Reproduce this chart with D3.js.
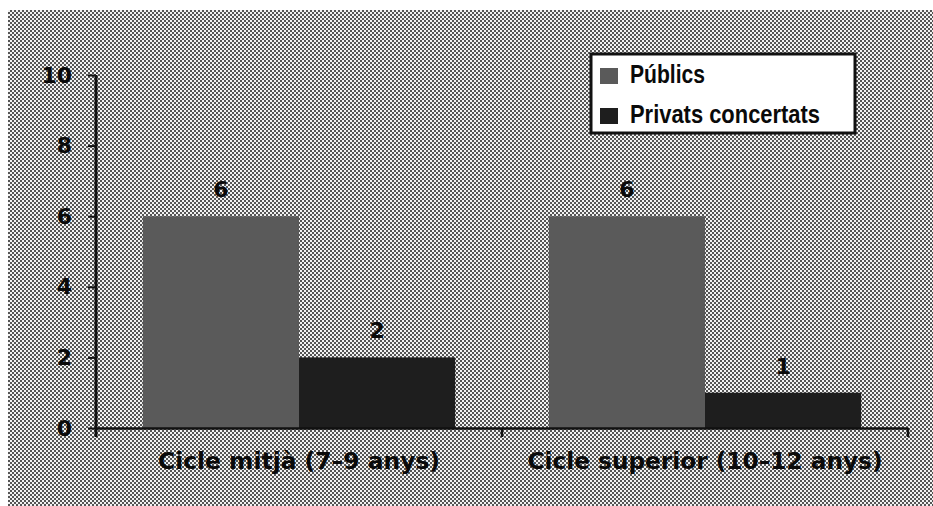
<!DOCTYPE html>
<html>
<head>
<meta charset="utf-8">
<script src="https://cdn.jsdelivr.net/npm/d3@7"></script>
<style>
  body { margin: 0; background: #fff; }
  svg { display: block; }
</style>
</head>
<body>
<div id="main"></div>
<script>
const ctx = {
    w: 933,
    h: 506,
};

// data
const categories = ["Cicle mitjà (7–9 anys)", "Cicle superior (10–12 anys)"];
const seriesNames = ["Públics", "Privats concertats"];
const publics = [6, 6];
const privats = [2, 1];
const yTicks = [0, 2, 4, 6, 8, 10];

const colors = {"Públics": "#5a5a5a", "Privats concertats": "#1e1e1e"};

function createChart(svg) {
    let defs = svg.append("defs");
    // halftone-ish background
    let pat = defs.append("pattern")
        .attr("id", "halftone")
        .attr("width", 4).attr("height", 4)
        .attr("patternUnits", "userSpaceOnUse");
    pat.append("rect").attr("width", 4).attr("height", 4).attr("fill", "#f2f2f2");
    pat.append("rect").attr("x", 0).attr("y", 0).attr("width", 2).attr("height", 2).attr("fill", "#555");
    pat.append("rect").attr("x", 2).attr("y", 2).attr("width", 2).attr("height", 2).attr("fill", "#555");

    svg.append("rect")
        .attr("x", 8).attr("y", 10)
        .attr("width", ctx.w).attr("height", ctx.h)
        .attr("fill", "url(#halftone)");

    let x0 = d3.scaleBand()
        .domain(categories)
        .range([96, 908]);
    let x1 = d3.scaleBand()
        .domain(seriesNames)
        .range([0, x0.bandwidth()])
        .paddingOuter(0.3);
    let y = d3.scaleLinear()
        .domain([0, 10])
        .range([428, 75]);

    let rows = categories.map((c, i) => ({
        cat: c,
        vals: [
            {name: seriesNames[0], v: publics[i]},
            {name: seriesNames[1], v: privats[i]}
        ]
    }));

    let groups = svg.selectAll("g.grp")
        .data(rows)
        .enter().append("g")
        .attr("class", "grp")
        .attr("transform", d => `translate(${x0(d.cat)},0)`);

    groups.selectAll("rect")
        .data(d => d.vals)
        .enter().append("rect")
        .attr("x", d => x1(d.name))
        .attr("y", d => y(d.v))
        .attr("width", x1.bandwidth())
        .attr("height", d => y(0) - y(d.v))
        .attr("fill", d => colors[d.name]);

    groups.selectAll("text.val")
        .data(d => d.vals)
        .enter().append("text")
        .attr("class", "val")
        .attr("x", d => x1(d.name) + x1.bandwidth() / 2)
        .attr("y", d => y(d.v) - 19)
        .attr("text-anchor", "middle")
        .style("font-family", "DejaVu Sans")
        .style("font-weight", "bold")
        .style("font-size", "22px")
        .style("fill", "#0a0a0a")
        .text(d => d.v);

    // y axis
    let yAxis = svg.append("g")
        .attr("transform", "translate(96,0)")
        .call(d3.axisLeft(y).tickValues(yTicks).tickSize(8).tickPadding(16).tickSizeOuter(0));
    yAxis.select(".domain").remove();
    yAxis.selectAll("line").attr("stroke", "#111").attr("stroke-width", 2);
    yAxis.selectAll("text")
        .style("font-family", "DejaVu Sans")
        .style("font-weight", "bold")
        .style("font-size", "22px")
        .style("fill", "#0a0a0a");
    svg.append("line")
        .attr("x1", 96).attr("x2", 96)
        .attr("y1", y(10)).attr("y2", y(0) + 9)
        .attr("stroke", "#111").attr("stroke-width", 3);

    // x axis
    let xAxis = svg.append("g")
        .attr("transform", `translate(0,${y(0)})`)
        .call(d3.axisBottom(x0).tickSize(0).tickPadding(25));
    xAxis.select(".domain").attr("stroke", "#111").attr("stroke-width", 2.5);
    xAxis.selectAll("text")
        .style("font-family", "DejaVu Sans")
        .style("font-weight", "bold")
        .style("font-size", "23px")
        .style("fill", "#0a0a0a")
        .attr("textLength", (d, i) => i == 0 ? 282 : 355)
        .attr("lengthAdjust", "spacingAndGlyphs");
    let bounds = categories.slice(1).map(c => x0(c)).concat([x0.range()[1]]);
    svg.selectAll("line.xt")
        .data(bounds)
        .enter().append("line")
        .attr("class", "xt")
        .attr("x1", d => d).attr("x2", d => d)
        .attr("y1", y(0)).attr("y2", y(0) + 9)
        .attr("stroke", "#111").attr("stroke-width", 2.5);

    // legend
    let lg = svg.append("g").attr("transform", "translate(591,54)");
    lg.append("rect")
        .attr("width", 264).attr("height", 79)
        .attr("fill", "#fff")
        .attr("stroke", "#111").attr("stroke-width", 3);
    let items = lg.selectAll("g.item")
        .data(seriesNames)
        .enter().append("g")
        .attr("class", "item")
        .attr("transform", (d, i) => `translate(9,${14 + i * 40})`);
    items.append("rect")
        .attr("width", 18).attr("height", 16)
        .attr("fill", d => colors[d]);
    items.append("text")
        .attr("x", 30).attr("y", 15)
        .style("font-family", "Liberation Sans")
        .style("font-weight", "bold")
        .style("font-size", "25px")
        .style("fill", "#0a0a0a")
        .attr("textLength", (d, i) => i == 0 ? 75 : 190)
        .attr("lengthAdjust", "spacingAndGlyphs")
        .text(d => d);
}

function createViz() {
    let svgEl = d3.select("#main").append("svg");
    svgEl.attr("width", ctx.w);
    svgEl.attr("height", ctx.h);
    createChart(svgEl);
}

createViz();
</script>
</body>
</html>
